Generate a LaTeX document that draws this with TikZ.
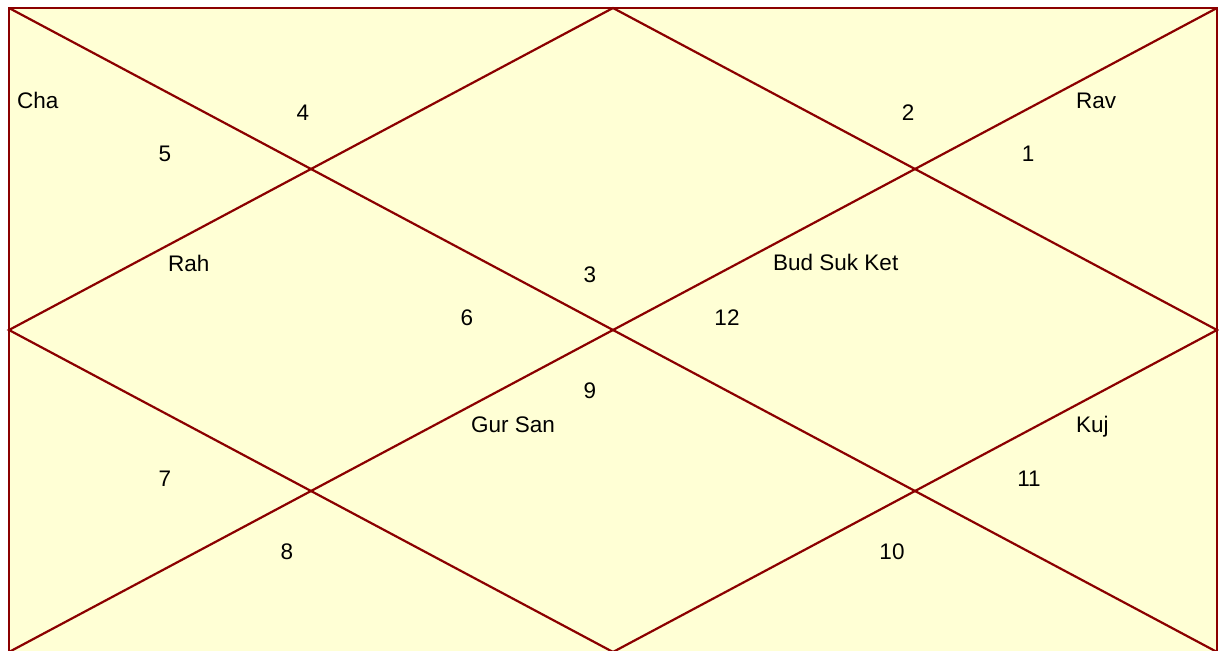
\documentclass[tikz,border=0pt]{standalone}
\usepackage{fontspec}
\setmainfont{Liberation Sans}
\usetikzlibrary{positioning}

\definecolor{chartline}{RGB}{139,0,0}
\definecolor{chartbg}{RGB}{255,255,213}

\begin{document}
\begin{tikzpicture}[x=1bp,y=-1bp,
    line/.style={draw=chartline,line width=2.2bp},
    house/.style={inner sep=0pt,anchor=base,font=\fontsize{22.5bp}{26bp}\selectfont},
    planet/.style={house,anchor=base west}]
    \useasboundingbox (0,0) rectangle (1219,651);
    \fill[white] (0,0) rectangle (1219,651);

    % frame corners and side midpoints
    \coordinate (nw) at (9,8);
    \coordinate (ne) at (1217,8);
    \coordinate (sw) at (9,652);
    \coordinate (se) at (1217,652);
    \coordinate (n) at (613,8);
    \coordinate (s) at (613,652);
    \coordinate (w) at (9,330);
    \coordinate (e) at (1217,330);

    \fill[chartbg] (nw) rectangle (se);
    \draw[line] (nw) rectangle (se);
    \draw[line] (nw) -- (se);
    \draw[line] (ne) -- (sw);
    \draw[line] (n) -- (e) -- (s) -- (w) -- cycle;

    % house numbers
    \node[house] (h1) at (1028,162) {1};
    \node[house] (h2) at (908,121) {2};
    \node[house] (h3) at (590,282) {3};
    \node[house] (h4) at (303,121) {4};
    \node[house] (h5) at (165,162) {5};
    \node[house] (h6) at (467,325) {6};
    \node[house] (h7) at (165,486) {7};
    \node[house] (h8) at (287,559) {8};
    \node[house] (h9) at (590,398) {9};
    \node[house] (h10) at (892,559) {10};
    \node[house] (h11) at (1029,486) {11};
    \node[house] (h12) at (727,325) {12};

    % planets
    \node[planet] (cha) at (17,109) {Cha};
    \node[planet] (rav) at (1076,109) {Rav};
    \node[planet] (rah) at (168,271) {Rah};
    \node[planet] (bsk) at (773,270) {Bud Suk Ket};
    \node[planet] (gs) at (471,432) {Gur San};
    \node[planet] (kuj) at (1076,432) {Kuj};
\end{tikzpicture}
\end{document}
